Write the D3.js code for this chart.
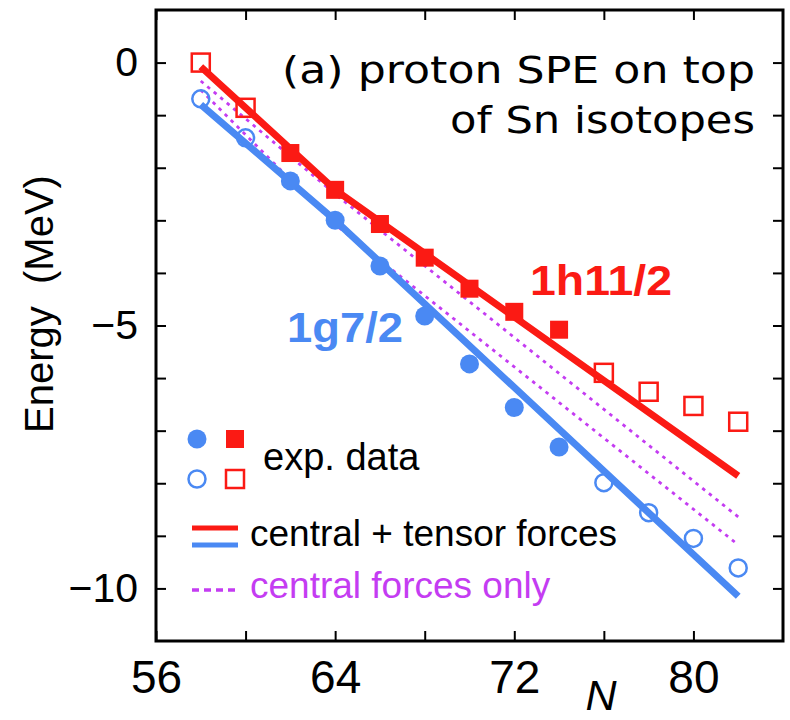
<!DOCTYPE html>
<html>
<head>
<meta charset="utf-8">
<script src="https://cdn.jsdelivr.net/npm/d3@7"></script>
<style>
  body { margin: 0; background: #fff; }
  text { font-family: "Liberation Sans", Arial, Helvetica, sans-serif; }
</style>
</head>
<body>
<svg id="chart" width="790" height="720"></svg>
<script>
// Neutron numbers of the measured Sn isotopes
const nExp = [58, 60, 62, 64, 66, 68, 70, 72, 74, 76, 78, 80, 82];
// Proton single-particle energies (MeV), experiment
const g72Exp  = [-0.69, -1.43, -2.25, -3.00, -3.87, -4.82, -5.73, -6.56, -7.31, -7.99, -8.56, -9.05, -9.61];
const h112Exp = [ 0.00, -0.86, -1.72, -2.42, -3.07, -3.71, -4.30, -4.74, -5.08, -5.90, -6.26, -6.53, -6.83];
// filled = solid symbol, otherwise hollow symbol
const expFilled = [false, false, true, true, true, true, true, true, true, false, false, false, false];

// Calculated trends (kink where the neutron h11/2 orbit starts filling)
const nCalc = [58, 64, 82];
const g72Tensor   = [-0.80, -3.00, -10.15];
const h112Tensor  = [-0.08, -2.42, -7.86];
const g72Central  = [-0.52, -3.08, -9.17];
const h112Central = [-0.35, -2.50, -8.64];

// Axis ticks and labels
const xTicks = [56, 60, 64, 68, 72, 76, 80];
const xLabels = [56, 64, 72, 80];
const yTicks = [-10, -9, -8, -7, -6, -5, -4, -3, -2, -1, 0];
const yLabels = [0, -5, -10];

const RED = "#fb1a14";
const BLUE = "#4a89f3";
const MAGENTA = "#c43cf2";

const svg = d3.select("#chart");
const x = d3.scaleLinear().domain([56, 84]).range([156, 783]);
const y = d3.scaleLinear().domain([-11, 1]).range([641, 10]);

const fmt = d => String(d).replace("-", "\u2212");

// Axes with inward ticks on all four sides
const gB = svg.append("g").attr("transform", "translate(0,641)")
  .call(d3.axisBottom(x).tickValues(xTicks).tickSize(-10).tickPadding(19)
    .tickFormat(d => xLabels.includes(d) ? d : ""));
const gT = svg.append("g").attr("transform", "translate(0,10)")
  .call(d3.axisTop(x).tickValues(xTicks).tickSize(-10).tickFormat(""));
const gL = svg.append("g").attr("transform", "translate(156,0)")
  .call(d3.axisLeft(y).tickValues(yTicks).tickSize(-10).tickPadding(18)
    .tickFormat(d => yLabels.includes(d) ? fmt(d) : ""));
const gR = svg.append("g").attr("transform", "translate(783,0)")
  .call(d3.axisRight(y).tickValues(yTicks).tickSize(-10).tickFormat(""));

[gB, gT, gL, gR].forEach(g => {
  g.select(".domain").remove();
  g.selectAll(".tick line").attr("stroke", "#000").attr("stroke-width", 2);
  g.selectAll(".tick text").attr("fill", "#000")
    .style("font-family", "'Liberation Sans', Arial, sans-serif");
});
gB.selectAll(".tick text").style("font-size", "46px");
gL.selectAll(".tick text").style("font-size", "41px");

// Frame
svg.append("rect").attr("x", 156).attr("y", 10).attr("width", 627).attr("height", 631)
  .attr("fill", "none").attr("stroke", "#000").attr("stroke-width", 3);

// Axis titles
svg.append("text").attr("transform", "translate(53,304) rotate(-90)")
  .attr("text-anchor", "middle").style("font-size", "40px").attr("fill", "#000")
  .text("Energy\u00a0\u00a0(MeV)");
svg.append("text").attr("x", 601).attr("y", 710).attr("text-anchor", "middle")
  .style("font-size", "43px").style("font-style", "italic").attr("fill", "#000").text("N");

// Calculated lines
const line = d3.line().x(d => x(d[0])).y(d => y(d[1]));
const pairs = vals => nCalc.map((n, i) => [n, vals[i]]);

[h112Central, g72Central].forEach(v => {
  svg.append("path").datum(pairs(v)).attr("d", line)
    .attr("fill", "none").attr("stroke", MAGENTA).attr("stroke-width", 2.8)
    .attr("stroke-dasharray", "3.5,5");
});
[[g72Tensor, BLUE], [h112Tensor, RED]].forEach(([v, c]) => {
  svg.append("path").datum(pairs(v)).attr("d", line)
    .attr("fill", "none").attr("stroke", c).attr("stroke-width", 7);
});

// Experimental points
const circles = nExp.map((n, i) => ({ n, e: g72Exp[i], f: expFilled[i] }));
const squares = nExp.map((n, i) => ({ n, e: h112Exp[i], f: expFilled[i] }));

svg.append("g").selectAll("circle").data(circles).join("circle")
  .attr("cx", d => x(d.n)).attr("cy", d => y(d.e))
  .attr("r", d => d.f ? 9.5 : 8.5)
  .attr("fill", d => d.f ? BLUE : "none")
  .attr("stroke", BLUE).attr("stroke-width", d => d.f ? 0 : 2.5);

svg.append("g").selectAll("rect").data(squares).join("rect")
  .attr("x", d => x(d.n) - 9).attr("y", d => y(d.e) - 9)
  .attr("width", 18).attr("height", 18)
  .attr("fill", d => d.f ? RED : "none")
  .attr("stroke", RED).attr("stroke-width", d => d.f ? 0 : 2.5);

// Panel title
const title = svg.append("g").attr("fill", "#000");
title.append("text").attr("x", 282).attr("y", 83)
  .attr("textLength", 473).attr("lengthAdjust", "spacingAndGlyphs")
  .style("font-family", "'DejaVu Sans', Verdana, sans-serif").style("font-size", "38px")
  .text("(a) proton SPE on top");
title.append("text").attr("x", 450).attr("y", 133)
  .attr("textLength", 305).attr("lengthAdjust", "spacingAndGlyphs")
  .style("font-family", "'DejaVu Sans', Verdana, sans-serif").style("font-size", "38px")
  .text("of Sn isotopes");

// Orbit labels
svg.append("text").attr("x", 530).attr("y", 295)
  .attr("textLength", 142).attr("lengthAdjust", "spacingAndGlyphs")
  .style("font-size", "43px").style("font-weight", "bold").attr("fill", RED).text("1h11/2");
svg.append("text").attr("x", 287).attr("y", 342)
  .attr("textLength", 116).attr("lengthAdjust", "spacingAndGlyphs")
  .style("font-size", "43px").style("font-weight", "bold").attr("fill", BLUE).text("1g7/2");

// Legend
const lg = svg.append("g");
lg.append("circle").attr("cx", 197).attr("cy", 439).attr("r", 9.5).attr("fill", BLUE);
lg.append("rect").attr("x", 226).attr("y", 430).attr("width", 18).attr("height", 18).attr("fill", RED);
lg.append("circle").attr("cx", 197).attr("cy", 479).attr("r", 8.5)
  .attr("fill", "none").attr("stroke", BLUE).attr("stroke-width", 2.5);
lg.append("rect").attr("x", 226).attr("y", 470).attr("width", 18).attr("height", 18)
  .attr("fill", "none").attr("stroke", RED).attr("stroke-width", 2.5);
lg.append("text").attr("x", 263).attr("y", 470).style("font-size", "38px").attr("fill", "#000")
  .text("exp. data");

lg.append("line").attr("x1", 192).attr("x2", 238).attr("y1", 528).attr("y2", 528)
  .attr("stroke", RED).attr("stroke-width", 5);
lg.append("line").attr("x1", 192).attr("x2", 238).attr("y1", 545).attr("y2", 545)
  .attr("stroke", BLUE).attr("stroke-width", 5);
lg.append("text").attr("x", 250).attr("y", 546).style("font-size", "37px").attr("fill", "#000")
  .text("central + tensor forces");

lg.append("line").attr("x1", 192).attr("x2", 238).attr("y1", 590).attr("y2", 590)
  .attr("stroke", MAGENTA).attr("stroke-width", 3.5).attr("stroke-dasharray", "7,5");
lg.append("text").attr("x", 250).attr("y", 598).style("font-size", "37px").attr("fill", MAGENTA)
  .text("central forces only");
</script>
</body>
</html>
